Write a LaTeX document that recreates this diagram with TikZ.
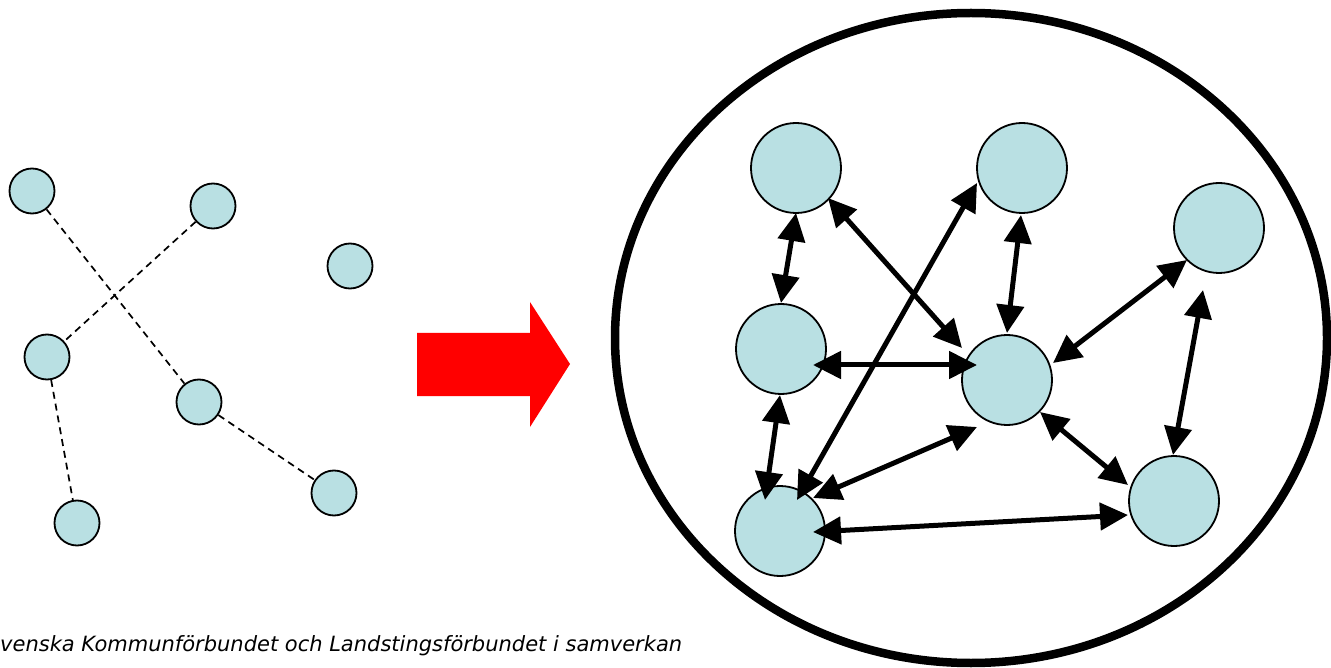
\documentclass[tikz,border=0pt]{standalone}
\usepackage{fontspec}
\newfontfamily\capfont{DejaVu Sans}
\usetikzlibrary{arrows.meta,calc,shapes.geometric}
\definecolor{nodefill}{RGB}{185,224,227}
\begin{document}
\begin{tikzpicture}[x=1pt,y=-1pt,
  small/.style={circle,draw,fill=nodefill,line width=1.8pt,minimum size=45pt,inner sep=0pt},
  big/.style={circle,draw,fill=nodefill,line width=1.8pt,minimum size=90pt,inner sep=0pt},
  weak/.style={line width=1.7pt,dash pattern=on 7pt off 5pt},
  link/.style={line width=5pt,{Triangle[length=28pt,width=27pt]}-{Triangle[length=28pt,width=27pt]}}]
\useasboundingbox (0,0) rectangle (1331,668);

% left: loose network
\node[small] (A) at (32,191) {};
\node[small] (B) at (213,206) {};
\node[small] (C) at (350,266) {};
\node[small] (D) at (47,357) {};
\node[small] (E) at (199,402) {};
\node[small] (F) at (334,493) {};
\node[small] (G) at (77,523) {};
\draw[weak] (A) -- (E);
\draw[weak] (B) -- (D);
\draw[weak] (D) -- (G);
\draw[weak] (E) -- (F);

% red arrow
\fill[red] (417,333) -- (530,333) -- (530,302) -- (570,364) -- (530,427) -- (530,396) -- (417,396) -- cycle;

% right: enclosed network
\node[ellipse,draw,line width=8.5pt,minimum width=712pt,minimum height=650pt,inner sep=0pt] (ring) at (971,338) {};
\node[big] (P1) at (796,168) {};
\node[big] (P2) at (1022,168) {};
\node[big] (P3) at (781,349) {};
\node[big] (P4) at (1007,380) {};
\node[big] (P5) at (1219,228) {};
\node[big] (P6) at (1174,501) {};
\node[big] (P7) at (780,531) {};

\draw[link] ($(P1)+(0,45)$) -- ($(P3)+(0,-46)$);
\draw[link] ($(P1)+(32,30)$) -- ($(P4)+(-45,-32)$);
\draw[link] ($(P7)+(17,-31)$) -- ($(P2)+(-45,15)$);
\draw[link] ($(P2)+(-1,47)$) -- ($(P4)+(0,-47)$);
\draw[link] ($(P3)+(32,16)$) -- ($(P4)+(-30,-15)$);
\draw[link] ($(P4)+(46,-17)$) -- ($(P5)+(-32,32)$);
\draw[link] ($(P3)+(-1,46)$) -- ($(P7)+(-15,-31)$);
\draw[link] ($(P7)+(33,-33)$) -- ($(P4)+(-30,47)$);
\draw[link] ($(P4)+(33,32)$) -- ($(P6)+(-46,-16)$);
\draw[link] ($(P7)+(33,1)$) -- ($(P6)+(-46,14)$);
\draw[link] ($(P5)+(-16,62)$) -- ($(P6)+(-1,-46)$);

\node[anchor=base west,inner sep=0pt,font=\capfont\itshape\fontsize{21}{24}\selectfont] (credit) at (0,651) {venska Kommunförbundet och Landstingsförbundet i samverkan};
\end{tikzpicture}
\end{document}
